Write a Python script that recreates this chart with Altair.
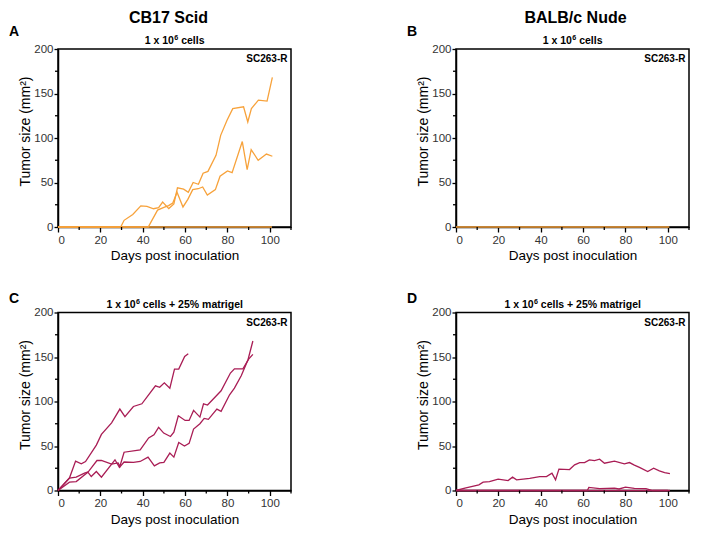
import altair as alt
import pandas as pd

FONT = "Liberation Sans"
ORANGE = "#F7A23B"
CRIMSON = "#A91D55"

X_MAJOR = [0, 20, 40, 60, 80, 100]
X_MINOR = [10, 30, 50, 70, 90, 110]
Y_MAJOR = [0, 50, 100, 150, 200]
Y_MINOR = [25, 75, 125, 175]

COL_TITLES = ["CB17 Scid", "BALB/c Nude"]
LETTERS = ["A", "B", "C", "D"]
SUB_HEAD = "1 x 10"
SUB_EXP = "6"
SUB_TAILS = ["cells", "cells + 25% matrigel"]
LINE_LABEL = "SC263-R"
X_TITLE = "Days post inoculation"
Y_TITLE = "Tumor size (mm\u00b2)"

# Panel A (CB17 Scid, 1e6 cells)
a1_days = [0, 29.6, 31.2, 35.3, 39.1, 42, 45.1, 47.5, 49.4, 52.3, 54.7, 56.4, 59.3, 61.5, 63.8, 66.3, 68.5, 70.8, 74.6, 76.8, 79.8, 82.5, 87.6, 89.6, 91.3, 94.6, 98.7, 101.2]
a1_vals = [0, 0, 7.5, 14, 23.7, 23.2, 20.5, 21.8, 28, 20.7, 26, 44, 42.5, 39, 50, 48, 60.5, 62.5, 80.5, 103, 120, 133, 135, 118, 133, 142.5, 141.5, 168]
a2_days = [0, 42.6, 47, 50, 52.2, 54.2, 56.2, 59, 61.3, 63.6, 66.2, 68.3, 70.5, 74.3, 76.5, 80, 82.2, 87, 89.3, 91.2, 94.5, 98.4, 101.2]
a2_vals = [0, 0, 19, 22, 24, 27, 39, 22.5, 31, 42, 43, 45, 36, 42, 57, 63, 61, 96, 64.5, 87, 75, 82, 79.5]
a0_days = [0, 101]
a0_vals = [0, 0]

# Panel B (BALB/c Nude, 1e6 cells): no growth
b0_days = [0, 100.7]
b0_vals = [0, 0]

# Panel C (CB17 Scid, + matrigel)
c1_days = [0, 5.4, 8.3, 11, 13, 18.1, 20.5, 25.3, 29.2, 31.6, 35.6, 39.6, 46, 48, 50.2, 52.8, 55, 57, 59.8, 61.5]
c1_vals = [0, 14, 33, 30, 32.6, 51, 63, 76, 91.5, 83, 94.4, 97.4, 117.6, 116, 121, 115, 136.4, 136.4, 150.6, 153.6]
c2_days = [0, 5.4, 8.6, 12.5, 14.3, 18.4, 20.5, 25.3, 28.4, 29.2, 31.2, 38.8, 42.8, 45.3, 47.5, 49.9, 53.1, 54.7, 56.8, 60, 61.9, 64, 67, 68.7, 70.6, 77, 81.4, 83.3, 87.3, 90, 92]
c2_vals = [0, 14, 15, 19.5, 21, 33.7, 33.7, 29.7, 31, 27, 43, 45.7, 59, 62.6, 71, 64.5, 60.7, 65.5, 84, 78.7, 78.7, 90, 82.5, 97.4, 96, 112, 132, 136.7, 136.7, 147.6, 153]
c3_days = [0, 5.4, 8.6, 14.1, 15.7, 18.1, 20.5, 26.9, 29, 31.2, 35.6, 38.8, 42.5, 45.5, 48, 50, 52.8, 54.7, 57, 59.7, 61.9, 64, 67, 69, 71, 75, 77, 81, 83.3, 86.5, 89.7, 92]
c3_vals = [0, 9.4, 10, 20.6, 15.7, 21.3, 15, 34.5, 26, 32, 31.5, 32.6, 37.5, 27.7, 31, 31.5, 42, 37.5, 54, 50, 53, 69, 75, 81, 80, 91.5, 89, 107.5, 115, 129, 147, 168]

# Panel D (BALB/c Nude, + matrigel)
d1_days = [0, 4.2, 10.8, 12.8, 15.8, 19.9, 24.6, 26.7, 28.6, 34.8, 39.5, 42.7, 45.3, 47, 48.6, 53.6, 56, 58.4, 60.7, 63, 65.4, 67.8, 70.1, 74.8, 79.5, 81.9, 84.2, 86.6, 90.5, 93.3, 96, 98.5, 101]
d1_vals = [0, 2.7, 6.4, 9.4, 10, 12.8, 11.2, 15, 12, 13.6, 15.7, 15.7, 19.5, 12, 24, 23.5, 28.8, 31.4, 31.4, 34.4, 33.6, 35.2, 30.7, 33, 30, 31.4, 28.5, 26, 21.3, 25, 22, 20, 19]
d2_days = [0, 62, 62.7, 67.8, 74.8, 77, 80, 84.2, 89.7, 92.8, 101]
d2_vals = [0, 0, 3.4, 2, 2.7, 1.7, 3.8, 2.5, 2.2, 0, 0]
d0_days = [0, 100]
d0_vals = [0, 0]

W, H = 233, 178
SUB_FS = 10.5

# approximate bold Arial advance widths (em) for centring the split subtitle
_EM = {"1": .556, "0": .556, "2": .556, "5": .556, "6": .556, " ": .278, "x": .556, "c": .556,
       "e": .556, "l": .278, "s": .556, "+": .584, "%": .889, "m": .889, "a": .556, "t": .333,
       "r": .389, "i": .278, "g": .611}


def tw(s, fs):
    return sum(_EM.get(ch, .556) for ch in s) * fs


def make_df(series):
    frames = []
    for name, (d, v) in series.items():
        frames.append(pd.DataFrame({"day": d, "size": v, "mouse": name}))
    return pd.concat(frames, ignore_index=True)


def txt(text, x, y, size, align="left", weight="bold"):
    return alt.Chart(pd.DataFrame({"t": [text]})).mark_text(
        align=align, baseline="alphabetic", font=FONT, fontSize=size, fontWeight=weight, color="black"
    ).encode(x=alt.value(x), y=alt.value(y), text="t:N")


def panel(series, color, letter, col_title, col_dx, tail, letter_y):
    df = make_df(series)
    xs = alt.Scale(domain=[0, 110], nice=False, zero=False)
    ys = alt.Scale(domain=[0, 200], nice=False)
    xax = alt.Axis(values=X_MAJOR, title=X_TITLE)
    yax = alt.Axis(values=Y_MAJOR, title=Y_TITLE, titleY=H / 2 - 7)
    lines = alt.Chart(df).mark_line(color=color, strokeWidth=1.3).encode(
        x=alt.X("day:Q", scale=xs, axis=xax, title=X_TITLE),
        y=alt.Y("size:Q", scale=ys, axis=yax, title=Y_TITLE),
        detail="mouse:N",
    )
    xminor = alt.Chart(pd.DataFrame({"day": X_MINOR})).mark_rule(color="black", strokeWidth=1.3).encode(
        x=alt.X("day:Q", scale=xs, axis=xax, title=X_TITLE), y=alt.value(H), y2=alt.value(H + 3)
    )
    yminor = alt.Chart(pd.DataFrame({"size": Y_MINOR})).mark_rule(color="black", strokeWidth=1.3).encode(
        y=alt.Y("size:Q", scale=ys, axis=yax, title=Y_TITLE), x=alt.value(0), x2=alt.value(-3)
    )
    sc = txt(LINE_LABEL, W - 3.5, 13, 10, align="right")
    # split subtitle with a raised exponent
    exp_fs = SUB_FS * 0.68
    sp = tw(" ", SUB_FS)
    total = tw(SUB_HEAD, SUB_FS) + tw(SUB_EXP, exp_fs) + sp + tw(tail, SUB_FS)
    x0 = W / 2 - total / 2
    xsplit = x0 + tw(SUB_HEAD, SUB_FS)
    head = txt(SUB_HEAD, xsplit, -5, SUB_FS, align="right")
    expo = txt(SUB_EXP, xsplit + 0.3, -9, exp_fs, align="left")
    tail_t = txt(tail, xsplit + tw(SUB_EXP, exp_fs) + 0.3 + sp, -5, SUB_FS, align="left")
    let = txt(letter, -49, letter_y, 14)
    layers = [lines, xminor, yminor, sc, head, expo, tail_t, let]
    if col_title:
        layers.append(txt(col_title, W / 2 + col_dx, -26.5, 16, align="center"))
    return alt.layer(*layers).properties(width=W, height=H)


A = panel({"a1": (a1_days, a1_vals), "a2": (a2_days, a2_vals), "a0": (a0_days, a0_vals)},
          ORANGE, LETTERS[0], COL_TITLES[0], -6, SUB_TAILS[0], -13)
B = panel({"b0": (b0_days, b0_vals)}, ORANGE, LETTERS[1], COL_TITLES[1], 3, SUB_TAILS[0], -13)
C = panel({"c1": (c1_days, c1_vals), "c2": (c2_days, c2_vals), "c3": (c3_days, c3_vals)},
          CRIMSON, LETTERS[2], None, 0, SUB_TAILS[1], -10)
D = panel({"d1": (d1_days, d1_vals), "d2": (d2_days, d2_vals), "d0": (d0_days, d0_vals)},
          CRIMSON, LETTERS[3], None, 0, SUB_TAILS[1], -10)

chart = alt.concat(
    A, B, C, D, columns=2, spacing={"row": 85.5, "column": 165}, bounds="flush"
).properties(
    padding={"left": 0, "top": 0, "right": 5, "bottom": 5}, background="white"
).configure_view(
    stroke="black", strokeWidth=1.5
).configure_axis(
    grid=False, domainColor="black", domainWidth=1.5, tickColor="black", tickWidth=1.3,
    tickSize=5, labelFont=FONT, labelFontSize=11.5, labelColor="#333333", labelPadding=2,
    titleFont=FONT, titleFontSize=13.5, titleFontWeight="normal", titleColor="black", titlePadding=3,
).configure_axisY(
    tickSize=4, labelPadding=1, titleFontSize=14, titlePadding=1
)

chart.save("out.html", embed_options={"renderer": "svg", "actions": False})
